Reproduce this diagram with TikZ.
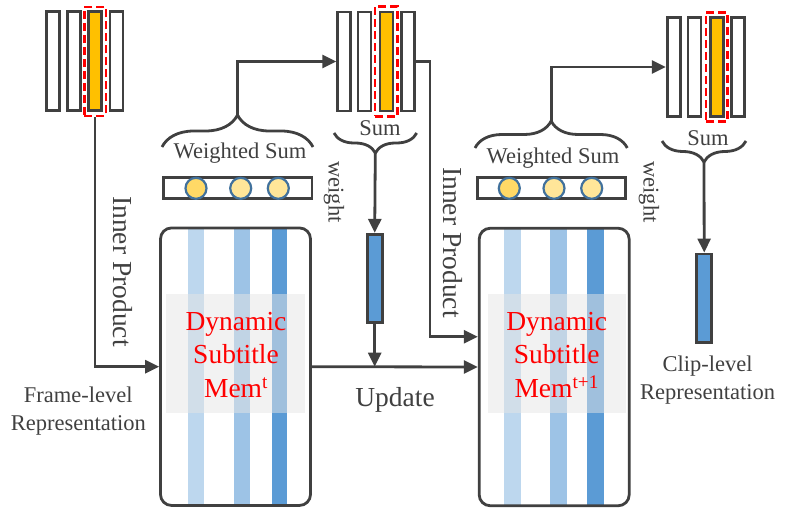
\documentclass[tikz,border=0pt]{standalone}
\usepackage{fontspec}
\setmainfont{Liberation Serif}
\usetikzlibrary{arrows.meta,positioning,calc,decorations.pathreplacing,backgrounds}
\definecolor{lineGray}{HTML}{404040}
\definecolor{goldFill}{HTML}{FFC000}
\definecolor{vecBlue}{HTML}{5B9BD5}
\definecolor{stripeA}{HTML}{BDD7EE}
\definecolor{stripeB}{HTML}{9DC3E6}
\definecolor{dotEdge}{HTML}{41719C}
\definecolor{dotDark}{HTML}{FFD966}
\definecolor{dotLight}{HTML}{FFE699}

\begin{document}
\begin{tikzpicture}[x=1pt,y=-1pt,
  cell/.style={rectangle,draw=lineGray,line width=2.8pt,fill=white,minimum width=13pt,minimum height=99pt,inner sep=0pt},
  cellHi/.style={cell,fill=goldFill},
  selBox/.style={rectangle,draw=red,line width=2.5pt,dash pattern=on 8pt off 4pt,minimum width=21.5pt,minimum height=109pt,inner sep=0pt},
  wBox/.style={rectangle,draw=lineGray,line width=2.8pt,minimum width=148.5pt,minimum height=21.5pt,inner sep=0pt},
  dot/.style={circle,draw=dotEdge,line width=2.2pt,fill=dotLight,minimum size=21pt,inner sep=0pt},
  dotHi/.style={dot,fill=dotDark},
  memBox/.style={rectangle,draw=lineGray,line width=2.8pt,rounded corners=11pt,minimum width=150pt,minimum height=277.5pt,inner sep=0pt},
  vec/.style={rectangle,draw=lineGray,line width=2.8pt,fill=vecBlue,minimum width=15pt,minimum height=88.5pt,inner sep=0pt},
  arrow/.style={-{Triangle[length=14pt,width=13pt]},line width=2.8pt,draw=lineGray},
  brc/.style={decorate,decoration={brace,amplitude=#1},line width=2.8pt,draw=lineGray},
  lab/.style={text=lineGray,font=\fontsize{22.5}{28}\selectfont,align=center,inner sep=0pt},
  labBig/.style={text=lineGray,font=\fontsize{27.5}{33}\selectfont,inner sep=0pt},
  memTxt/.style={text=red,font=\fontsize{27.5}{33.3}\selectfont,align=center,inner sep=0pt}
]
\useasboundingbox (0,0) rectangle (789,518);

% frame-level features
\node[cell] (c1a) at (53,61.3) {};
\node[cell] (c1b) at (74,61.3) {};
\node[cellHi] (c1c) at (95,61.3) {};
\node[cell] (c1d) at (116.5,61.3) {};
\node[selBox] (sel1) at (95,61.3) {};

% sum after first step
\node[cell] (c2a) at (344.2,61.5) {};
\node[cell] (c2b) at (364.5,61.5) {};
\node[cellHi] (c2c) at (386.4,61.5) {};
\node[cell] (c2d) at (408.3,61.5) {};
\node[selBox,minimum width=22.5pt,minimum height=110pt] (sel2) at (386.2,61.5) {};

% sum after second step
\node[cell] (c3a) at (673.7,67) {};
\node[cell] (c3b) at (694.5,67) {};
\node[cellHi] (c3c) at (716.7,67) {};
\node[cell] (c3d) at (737.9,67) {};
\node[selBox] (sel3) at (716.7,66.9) {};

% weights
\node[wBox] (w1) at (237.8,188) {};
\node[dotHi] (d1a) at (196,188.3) {};
\node[dot] (d1b) at (240.7,188.3) {};
\node[dot] (d1c) at (278.3,188.3) {};
\node[wBox] (w2) at (551.5,188) {};
\node[dotHi] (d2a) at (509.3,188.3) {};
\node[dot] (d2b) at (554,188.3) {};
\node[dot] (d2c) at (591.7,188.3) {};

% memory banks
\node[memBox] (mem1) at (235.5,366.7) {};
\node[memBox] (mem2) at (554.2,367) {};
\begin{scope}[on background layer]
  \fill[stripeA] (188.3,228) rectangle (204.3,505.5);
  \fill[stripeB] (234.3,228) rectangle (250,505.5);
  \fill[vecBlue] (271.7,228) rectangle (287.3,505.5);
  \fill[stripeA] (504.3,228) rectangle (520.7,506);
  \fill[stripeB] (550,228) rectangle (566.7,506);
  \fill[vecBlue] (587.3,228) rectangle (604,506);
  \fill[black!10,opacity=0.5] (166,294) rectangle (305.3,413.3);
  \fill[black!10,opacity=0.5] (487.7,294) rectangle (626,413.3);
\end{scope}
\node[memTxt] (mt1) at (236,355) {Dynamic\\Subtitle\\Mem\textsuperscript{t}};
\node[memTxt] (mt2) at (556.7,355) {Dynamic\\Subtitle\\Mem\textsuperscript{t+1}};

% update and clip vectors
\node[vec] (v1) at (374.7,278.5) {};
\node[vec] (v2) at (704.2,298.2) {};

% braces
\draw[brc=32pt] (162,147) -- (313,147);
\draw[brc=27pt] (475,148) -- (627.3,148);
\draw[brc=20pt] (416.7,133) -- (334,133);
\draw[brc=21pt] (746,141) -- (662,141);
\coordinate (tipWs1) at (237.5,115);
\coordinate (tipWs2) at (551.2,121);
\coordinate (tipSum1) at (375.3,153);
\coordinate (tipSum2) at (704,162);
\coordinate (ipTurn) at (430,336.7);

% connectors
\draw[arrow] (sel1.south) |- (mem1.west);
\draw[arrow] (tipWs1) |- (c2a.west);
\draw[arrow] (c2d.east) -| (ipTurn) -- (ipTurn -| mem2.west);
\draw[arrow] (tipSum1) -- (v1.north);
\draw[arrow] (v1.south) -- (v1.south |- mem1.east);
\draw[arrow] (mem1.east) -- (mem2.west);
\draw[arrow] (tipWs2) |- (c3a.west);
\draw[arrow] (tipSum2) -- (v2.north);

% labels
\node[lab] (ws1) at (240,153) {Weighted Sum};
\node[lab] (ws2) at (553,158) {Weighted Sum};
\node[lab] (sm1) at (380,128) {Sum};
\node[lab] (sm2) at (708,138) {Sum};
\node[lab,rotate=-90] (wt1) at (334,192) {weight};
\node[lab,rotate=-90] (wt2) at (649,192) {weight};
\node[labBig,rotate=-90] (ip1) at (123,271.5) {Inner Product};
\node[labBig,rotate=-90] (ip2) at (453,242.5) {Inner Product};
\node[labBig] (upd) at (395,400) {Update};
\node[lab] (frm) at (78.3,411) {Frame-level\\Representation};
\node[lab] (clp) at (707.7,380) {Clip-level\\Representation};
\end{tikzpicture}
\end{document}
